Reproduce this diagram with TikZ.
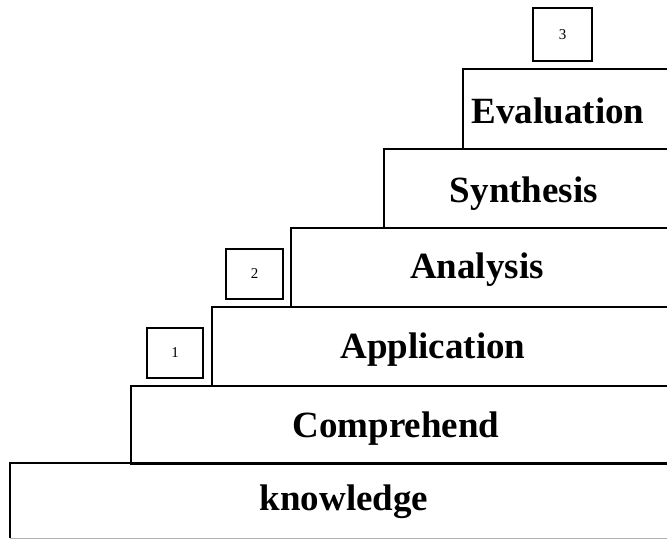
\documentclass[tikz,border=0pt]{standalone}
\usepackage{fontspec}
\setmainfont{Liberation Serif}
\begin{document}
\begin{tikzpicture}[x=1pt,y=-1pt,
  stepbox/.style={draw, line width=1.6pt, anchor=north west, inner sep=0pt, minimum height=#1},
  stepbox/.default=79pt,
  levelname/.style={font=\fontsize{37}{40}\selectfont\bfseries, anchor=base, inner sep=0pt},
  numbox/.style={draw, line width=1.1pt, inner sep=0pt, font=\fontsize{15}{16}\selectfont}]
\useasboundingbox (0,0) rectangle (667,542);
\clip (0,0) rectangle (667,542);

% the staircase, from the top step down (right edges run off the page)
\node[stepbox=80pt, minimum width=260pt] (evaluation) at (462,68) {};
\node[stepbox=79pt, minimum width=340pt] (synthesis) at (383,148) {};
\node[stepbox=79pt, minimum width=430pt] (analysis) at (290,227) {};
\node[stepbox=79pt, minimum width=510pt] (application) at (211,306) {};
\node[stepbox=78pt, minimum width=590pt] (comprehend) at (130,385) {};
\node[draw=none, anchor=north west, inner sep=0pt, minimum width=700pt, minimum height=75pt] (knowledge) at (10,463) {};
\draw[line width=1.6pt] (knowledge.south west) |- (knowledge.north east);
\draw[line width=0.8pt, black!30] (knowledge.south west) -- (knowledge.south east);

% level names
\node[levelname] (tEvaluation) at (558,123) {Evaluation};
\node[levelname] (tSynthesis) at (524,202) {Synthesis};
\node[levelname] (tAnalysis) at (477,278) {Analysis};
\node[levelname] (tApplication) at (433,358) {Application};
\node[levelname] (tComprehend) at (396,437) {Comprehend};
\node[levelname] (tKnowledge) at (344,510) {knowledge};

% numbered markers
\node[numbox, minimum width=56pt, minimum height=50pt] (n1) at (175,353) {1};
\node[numbox, minimum width=57pt, minimum height=50pt] (n2) at (254.5,274) {2};
\node[numbox, minimum width=59pt, minimum height=53pt] (n3) at (562.5,34.5) {3};
\end{tikzpicture}
\end{document}
